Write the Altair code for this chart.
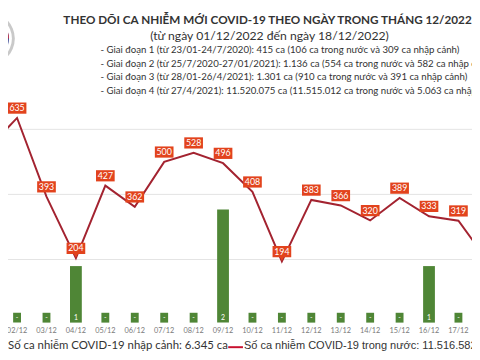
import altair as alt
import pandas as pd

days = list(range(1, 19))
date_labels = [f"{d:02d}/12" for d in days]
domestic = [540, 635, 393, 204, 427, 362, 500, 528, 496, 408, 194, 383, 366, 320, 389, 333, 319, 195]
imported = [0, 0, 0, 1, 0, 0, 0, 0, 2, 0, 0, 0, 0, 0, 0, 1, 0, 0]
bar_text = ["-" if v == 0 else str(v) for v in imported]
pointer_days = [4, 11]

title_1 = "THEO DÕI CA NHIỄM MỚI COVID-19 THEO NGÀY TRONG THÁNG 12/2022"
title_2 = "(từ ngày 01/12/2022 đến ngày 18/12/2022)"
bullets = [
    "- Giai đoạn 1 (từ 23/01-24/7/2020): 415 ca (106 ca trong nước và 309 ca nhập cảnh)",
    "- Giai đoạn 2 (từ 25/7/2020-27/01/2021): 1.136 ca (554 ca trong nước và 582 ca nhập cảnh)",
    "- Giai đoạn 3 (từ 28/01-26/4/2021): 1.301 ca (910 ca trong nước và 391 ca nhập cảnh)",
    "- Giai đoạn 4 (từ 27/4/2021): 11.520.075 ca (11.515.012 ca trong nước và 5.063 ca nhập cảnh)",
]
legend_import = "Số ca nhiễm COVID-19 nhập cảnh: 6.345 ca"
legend_domestic = "Số ca nhiễm COVID-19 trong nước: 11.516.582 ca"
grid_values = [200, 400, 600]

df = pd.DataFrame({
    "day": days,
    "date": date_labels,
    "domestic": domestic,
    "imported": imported,
    "bar_text": bar_text,
    "pointer": [d in pointer_days for d in days],
})

W, H = 472, 352
xs = alt.Scale(domain=[1.859, 17.294])
ys_line = alt.Scale(domain=[-99.7, 963.7], zero=False, nice=False)
ys_bar = alt.Scale(domain=[-0.6087, 5.513], zero=False, nice=False)

RED = "#e2431d"
LINE = "#a32330"
GREEN = "#4f8636"
FONT = "Lato"

base = alt.Chart(df)
X = alt.X("day:Q", scale=xs, axis=None)

grid = alt.Chart(pd.DataFrame({"g": grid_values})).mark_rule(color="#e3e3e3", strokeWidth=1).encode(
    y=alt.Y("g:Q", scale=ys_line, axis=None)
)

bars = base.transform_filter("datum.imported > 0").mark_bar(color=GREEN, width=12, clip=True).encode(
    x=X, y=alt.Y("imported:Q", scale=ys_bar, axis=None), y2=alt.datum(0)
)
stubs = base.transform_filter("datum.imported == 0").mark_bar(color=GREEN, width=8, yOffset=-10, clip=True).encode(
    x=X, y=alt.Y("imported:Q", scale=ys_bar, axis=None), y2=alt.datum(0)
)
bar_labels = base.transform_calculate(zero="0").mark_text(color="white", fontSize=7, font=FONT, dy=-5, clip=True).encode(
    x=X, y=alt.Y("zero:Q", scale=ys_bar, axis=None), text="bar_text:N"
)

line = base.mark_line(color=LINE, strokeWidth=2, clip=True).encode(
    x=X, y=alt.Y("domestic:Q", scale=ys_line, axis=None)
)

box_path = "M-1,-0.6H1V0.6H-1Z"
ptr_path = "M-1,-0.6H1V0.6H0.22L0,1L-0.22,0.6H-1Z"
boxes = base.transform_filter("!datum.pointer").mark_point(
    shape=box_path, filled=True, size=361, opacity=1, color=RED, yOffset=-10, clip=True
).encode(x=X, y=alt.Y("domestic:Q", scale=ys_line, axis=None))
pboxes = base.transform_filter("datum.pointer").mark_point(
    shape=ptr_path, filled=True, size=361, opacity=1, color=RED, yOffset=-10, clip=True
).encode(x=X, y=alt.Y("domestic:Q", scale=ys_line, axis=None))
vlabels = base.mark_text(color="white", fontSize=9, font=FONT, dy=-10, clip=True).encode(
    x=X, y=alt.Y("domestic:Q", scale=ys_line, axis=None), text="domestic:Q"
)

ticks = base.mark_text(color="#7a7a7a", fontSize=7.5, font=FONT, clip=True).encode(
    x=X, y=alt.value(326), text="date:N"
)

def txt(s, x, y, size, align="left", weight="normal", color="#333333", font=FONT):
    return alt.Chart(pd.DataFrame({"t": [s]})).mark_text(
        align=align, baseline="middle", fontSize=size, fontWeight=weight, color=color, font=font
    ).encode(x=alt.value(x), y=alt.value(y), text="t:N")

texts = [
    txt(title_1, 264, 9, 11.9, align="center", weight="bold"),
    txt(title_2, 266, 26, 12.4, align="center"),
]
for i, b in enumerate(bullets):
    texts.append(txt(b, 94, 40 + i * 13.7, 9.8))
texts.append(txt(legend_import, 0, 341, 11.6))
texts.append(txt(legend_domestic, 240, 341, 11.2, font="Liberation Sans"))

legend_dash = alt.Chart(pd.DataFrame({"a": [0]})).mark_rule(color="#c8102e", strokeWidth=2).encode(
    x=alt.value(224), x2=alt.value(239), y=alt.value(342)
)

logo_df = pd.DataFrame({"a": [0]})
logo = [
    alt.Chart(logo_df).mark_point(shape="circle", filled=True, opacity=1, size=2900, color="#c9c9c9").encode(x=alt.value(-20), y=alt.value(28)),
    alt.Chart(logo_df).mark_point(shape="circle", filled=True, opacity=1, size=2300, color="white").encode(x=alt.value(-20), y=alt.value(28)),
    alt.Chart(logo_df).mark_point(shape="circle", filled=True, opacity=1, size=1750, color="#2b3a8c").encode(x=alt.value(-20), y=alt.value(28)),
    alt.Chart(logo_df).mark_point(shape="M-1,0A1,1 0 0,1 1,0Z", filled=True, opacity=1, size=1750, color="#d42a3a").encode(x=alt.value(-20), y=alt.value(28)),
]

chart = alt.layer(
    grid, bars, stubs, bar_labels, line, boxes, pboxes, vlabels, ticks, legend_dash, *logo, *texts
).resolve_scale(y="independent").properties(
    width=W, height=H, padding=0, autosize=alt.AutoSizeParams(type="none"), background="white"
).configure_view(stroke=None)

chart.save("out.html", embed_options={"renderer": "svg", "actions": False})
